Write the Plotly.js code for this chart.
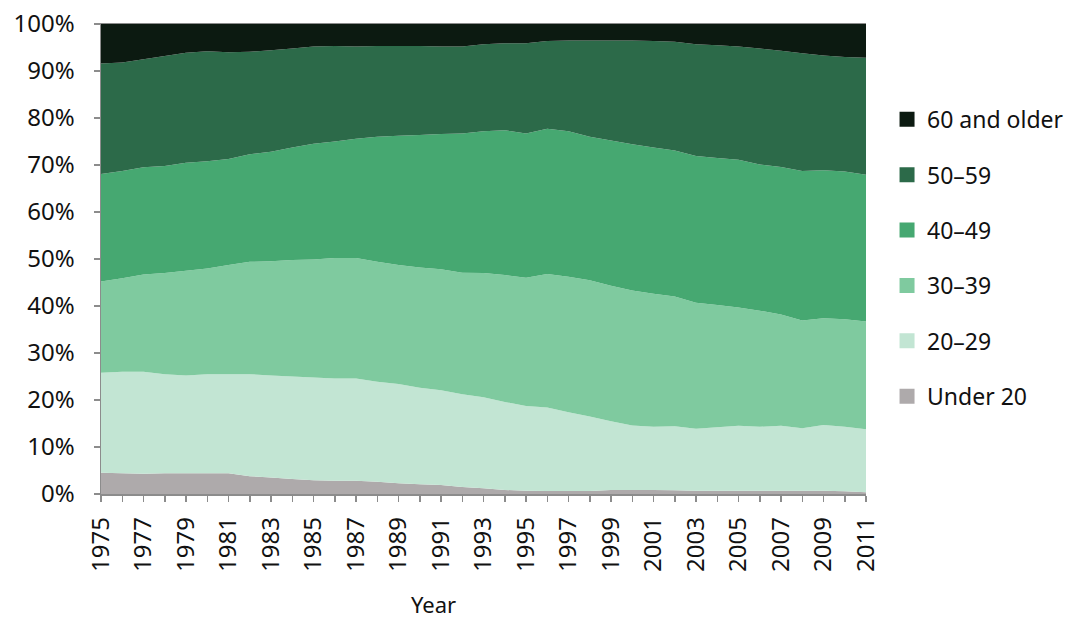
<!DOCTYPE html>
<html>
<head>
<meta charset="utf-8">
<script src="https://cdn.plot.ly/plotly-3.0.1.min.js"></script>
<style>html,body{margin:0;padding:0;background:#fff;}#chart{width:1070px;height:618px;}</style>
</head>
<body>
<div id="chart"></div>
<script>
const years = [1975,1976,1977,1978,1979,1980,1981,1982,1983,1984,1985,1986,1987,1988,1989,1990,1991,1992,1993,1994,1995,1996,1997,1998,1999,2000,2001,2002,2003,2004,2005,2006,2007,2008,2009,2010,2011];

const under20 = [4.5,4.4,4.3,4.4,4.4,4.4,4.4,3.8,3.5,3.2,2.9,2.8,2.8,2.6,2.3,2.1,1.9,1.5,1.2,0.85,0.7,0.65,0.65,0.65,0.85,0.85,0.85,0.8,0.7,0.7,0.7,0.7,0.7,0.7,0.7,0.6,0.35];
const age20_29 = [21.3,21.6,21.7,21.1,20.8,21.1,21.1,21.7,21.7,21.8,21.9,21.8,21.8,21.3,21.1,20.5,20.2,19.7,19.4,18.75,18.0,17.75,16.75,15.85,14.65,13.75,13.45,13.6,13.2,13.5,13.8,13.6,13.8,13.3,14.0,13.7,13.45];
const age30_39 = [19.4,19.9,20.7,21.5,22.3,22.5,23.2,23.9,24.3,24.8,25.1,25.6,25.6,25.5,25.3,25.6,25.7,25.9,26.4,27.0,27.3,28.4,28.8,29.0,28.8,28.7,28.3,27.6,26.8,26.0,25.2,24.7,23.7,22.9,22.7,22.9,22.9];
const age40_49 = [22.9,22.8,22.8,22.8,23.0,22.8,22.6,22.9,23.3,23.9,24.6,24.8,25.4,26.6,27.5,28.2,28.8,29.6,30.2,30.8,30.7,30.9,31.0,30.5,30.9,31.1,31.1,31.1,31.2,31.3,31.4,31.1,31.4,31.8,31.5,31.4,31.2];
const age50_59 = [23.5,23.1,23.0,23.4,23.4,23.4,22.7,21.8,21.6,21.1,20.7,20.3,19.6,19.3,19.1,18.9,18.6,18.5,18.5,18.5,19.2,18.7,19.3,20.5,21.3,22.1,22.7,23.1,23.8,24.0,24.1,24.7,24.7,25.1,24.4,24.4,24.9];
const age60plus = [8.4,8.2,7.5,6.8,6.1,5.8,6.0,5.9,5.6,5.2,4.8,4.7,4.8,4.7,4.7,4.7,4.8,4.8,4.3,4.1,4.1,3.6,3.5,3.5,3.5,3.5,3.6,3.8,4.3,4.5,4.8,5.2,5.7,6.2,6.7,7.0,7.2];

const seriesNames = ["Under 20","20–29","30–39","40–49","50–59","60 and older"];
const seriesData = [under20, age20_29, age30_39, age40_49, age50_59, age60plus];
const seriesColors = ["#aeaaab","#c2e5d3","#7fca9f","#46a871","#2c6a49","#0c1a11"];

const yTickVals = [0,10,20,30,40,50,60,70,80,90,100];
const yTickText = ["0%","10%","20%","30%","40%","50%","60%","70%","80%","90%","100%"];

const FONT = "Noto Sans, Open Sans, sans-serif";
const FS = 24;
const traces = [];
// legend entries (top to bottom)
for (let i = seriesNames.length - 1; i >= 0; i--) {
  traces.push({
    type: "scatter", x: [null], y: [null], mode: "markers",
    name: seriesNames[i], legendgroup: "g" + i,
    marker: {symbol: "square", size: 15, color: seriesColors[i]},
    hoverinfo: "skip"
  });
}
// stacked areas
for (let i = 0; i < seriesNames.length; i++) {
  traces.push({
    type: "scatter", x: years, y: seriesData[i], name: seriesNames[i],
    stackgroup: "one", mode: "none", fillcolor: seriesColors[i],
    line: {width: 0}, showlegend: false, legendgroup: "g" + i
  });
}

const layout = {
  width: 1070, height: 618,
  margin: {l: 101, r: 204, t: 24, b: 124, autoexpand: false},
  paper_bgcolor: "#ffffff", plot_bgcolor: "#ffffff",
  font: {family: FONT, size: FS, color: "#111111"},
  showlegend: true,
  legend: {
    x: 1.0275, xanchor: "left", y: 0.843, yanchor: "top",
    traceorder: "grouped", tracegroupgap: 22.5,
    font: {family: FONT, size: 23, color: "#111111"},
    itemwidth: 30, bgcolor: "rgba(0,0,0,0)"
  },
  xaxis: {
    range: [1975, 2011], tick0: 1975, dtick: 2,
    tickangle: -90, ticks: "outside", ticklen: 6, tickcolor: "#8c8c8c", tickwidth: 1.5,
    showline: true, linecolor: "#8c8c8c", linewidth: 1.5, mirror: true,
    showgrid: false, zeroline: false, ticklabelstandoff: 6,
    minor: {dtick: 1, ticks: "outside", ticklen: 6, tickcolor: "#8c8c8c", tickwidth: 1.5, showgrid: false},
    tickfont: {family: FONT, size: FS, color: "#111111"}
  },
  yaxis: {
    range: [0, 100], tickmode: "array", tickvals: yTickVals, ticktext: yTickText,
    ticks: "outside", ticklen: 6, tickcolor: "#8c8c8c", tickwidth: 1.5,
    showline: true, linecolor: "#8c8c8c", linewidth: 1.5,
    showgrid: false, zeroline: false, ticklabelstandoff: 14,
    tickfont: {family: FONT, size: FS, color: "#111111"}
  },
  annotations: [{
    text: "Year", xref: "paper", yref: "paper", x: 0.435, y: -0.234,
    xanchor: "center", yanchor: "middle", showarrow: false,
    font: {family: FONT, size: FS - 2, color: "#111111"}
  }]
};

Plotly.newPlot("chart", traces, layout, {displayModeBar: false, staticPlot: true});
</script>
</body>
</html>
